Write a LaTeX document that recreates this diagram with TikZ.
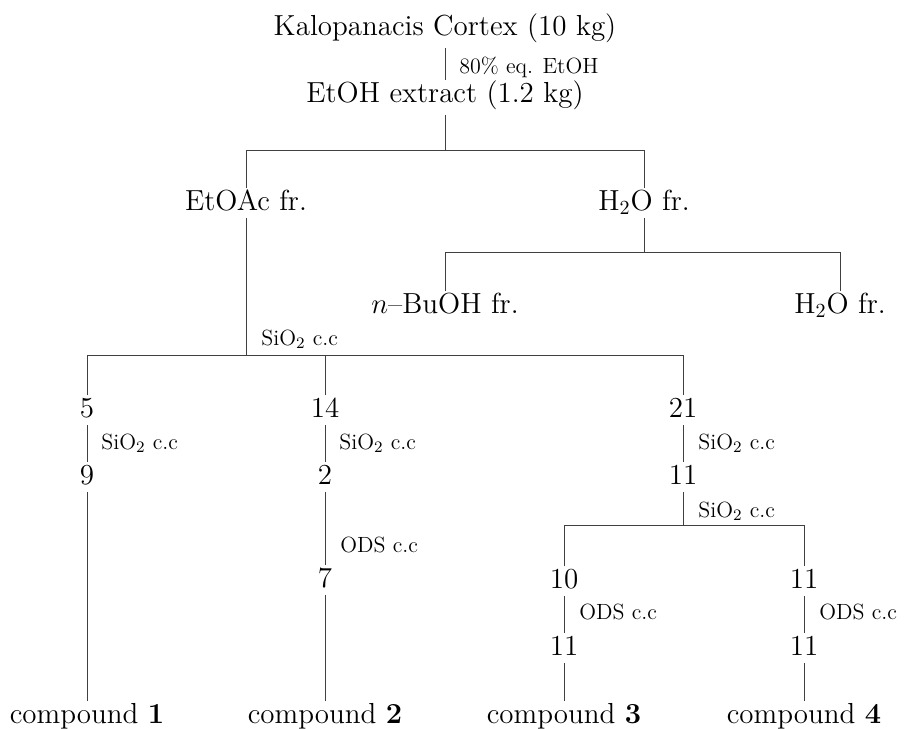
\documentclass[tikz,border=0pt]{standalone}
\usepackage{amsmath}
\tikzset{every node/.style={font=\fontsize{14.5}{17}\selectfont},
	fr/.style={anchor=base,text height=.66em,text depth=0pt,inner xsep=0pt,inner ysep=4pt},
	cc/.style={anchor=base west,inner sep=0pt,font=\fontsize{11}{13}\selectfont},
	link/.style={draw=black!75,line width=.5pt}}
\begin{document}
\begin{tikzpicture}[x=0.5pt,y=-0.5pt]
\useasboundingbox (0,0) rectangle (906,729);
\node[fr,text depth=.25em] (kalo) at (445,35) {Kalopanacis Cortex (10 kg)};
\node[fr,text depth=.25em] (extract) at (445,102) {EtOH extract (1.2 kg)};
\draw[link] (kalo.south) -- (extract.north);
\node[cc] (eth) at (459,73) {80\% eq. EtOH};
\coordinate (b1) at (445,150);
\node[fr] (etoac) at (246,210) {EtOAc fr.};
\node[fr] (water) at (644,210) {H$_2$O fr.};
\draw[link] (extract.south) -- (b1);
\draw[link] (etoac.north) -- (etoac.north |- b1) -- (water.north |- b1) -- (water.north);
\coordinate (b2) at (644,252);
\node[fr] (buoh) at (445,313) {$n$--BuOH fr.};
\node[fr] (waterb) at (840,313) {H$_2$O fr.};
\draw[link] (water.south) -- (b2);
\draw[link] (buoh.north) -- (buoh.north |- b2) -- (waterb.north |- b2) -- (waterb.north);
\coordinate (b3) at (246,355);
\node[fr] (f5) at (87,417) {5};
\node[fr] (f14) at (325,417) {14};
\node[fr] (f21) at (683,417) {21};
\draw[link] (etoac.south) -- (b3);
\draw[link] (f5.north) -- (f5.north |- b3) -- (f21.north |- b3) -- (f21.north);
\draw[link] (f14.north) -- (f14.north |- b3);
\node[cc] (sio) at (261,345) {SiO$_2$ c.c};
\node[fr] (f9) at (87,484) {9};
\node[fr] (f2) at (325,484) {2};
\node[fr] (f11) at (683,484) {11};
\draw[link] (f5.south) -- (f9.north);
\draw[link] (f14.south) -- (f2.north);
\draw[link] (f21.south) -- (f11.north);
\node[cc] (sioa) at (101,449) {SiO$_2$ c.c};
\node[cc] (siob) at (339,449) {SiO$_2$ c.c};
\node[cc] (sioc) at (698,449) {SiO$_2$ c.c};
\node[fr] (f7) at (325,587) {7};
\draw[link] (f2.south) -- (f7.north);
\node[cc] (odsb) at (340,552) {ODS c.c};
\coordinate (b4) at (683,525);
\node[fr] (f10) at (564,588) {10};
\node[fr] (f11b) at (804,588) {11};
\draw[link] (f11.south) -- (b4);
\draw[link] (f10.north) -- (f10.north |- b4) -- (f11b.north |- b4) -- (f11b.north);
\node[cc] (siod) at (698,517) {SiO$_2$ c.c};
\node[fr] (f11c) at (564,655) {11};
\node[fr] (f11d) at (804,655) {11};
\draw[link] (f10.south) -- (f11c.north);
\draw[link] (f11b.south) -- (f11d.north);
\node[cc] (odsc) at (579,619) {ODS c.c};
\node[cc] (odsd) at (819,619) {ODS c.c};
\node[fr] (cp1) at (87,723) {compound \textbf{1}};
\node[fr] (cp2) at (325,723) {compound \textbf{2}};
\node[fr] (cp3) at (564,723) {compound \textbf{3}};
\node[fr] (cp4) at (804,723) {compound \textbf{4}};
\draw[link] (f9.south) -- (cp1.north);
\draw[link] (f7.south) -- (cp2.north);
\draw[link] (f11c.south) -- (cp3.north);
\draw[link] (f11d.south) -- (cp4.north);
\end{tikzpicture}
\end{document}
